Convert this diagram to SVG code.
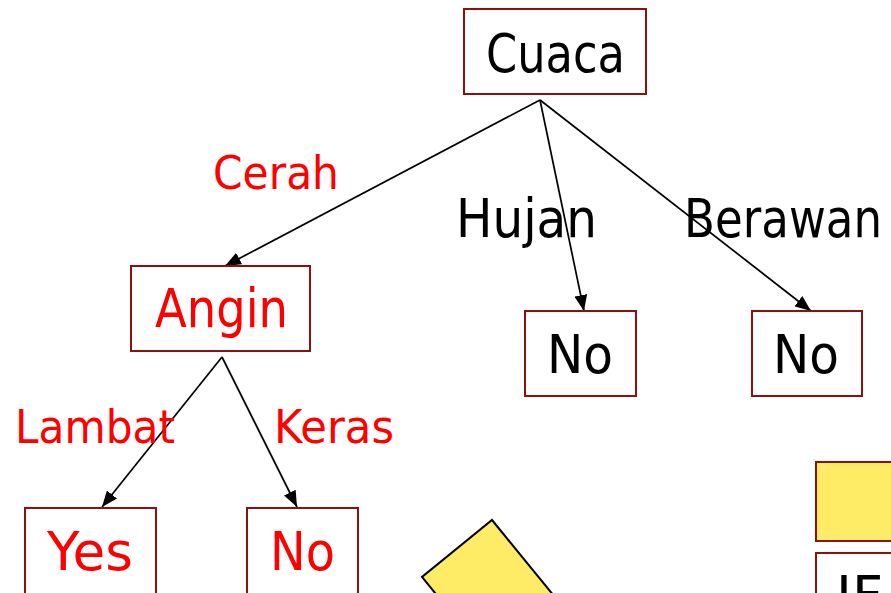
<svg xmlns="http://www.w3.org/2000/svg" width="891" height="593" viewBox="0 0 891 593">
<defs>
<marker id="arr" viewBox="0 0 16 13" refX="16" refY="6.5" markerWidth="16" markerHeight="13" markerUnits="userSpaceOnUse" orient="auto">
<path d="M0,0 L16,6.5 L0,13 z" fill="#000"/>
</marker>
<style>
.box{fill:#fff;stroke:#8b1010;stroke-width:2}
.t{font-family:"DejaVu Sans","Liberation Sans",sans-serif;font-size:54px}
.lb{font-family:"DejaVu Sans","Liberation Sans",sans-serif;font-size:46px;fill:#ff0000}
.blk{fill:#000}
.red{fill:#ff0000}
.e{stroke:#000;stroke-width:1.7;fill:none;marker-end:url(#arr)}
</style>
</defs>
<rect width="891" height="593" fill="#fff"/>
<g id="connectors">
<line class="e" x1="540" y1="100" x2="225" y2="266"/>
<line class="e" x1="540" y1="100" x2="584" y2="311"/>
<line class="e" x1="540" y1="100" x2="811" y2="311"/>
<line class="e" x1="222" y1="357" x2="102" y2="507"/>
<line class="e" x1="222" y1="357" x2="297" y2="507"/>
</g>
<g id="edge-labels">
<text class="lb" x="213" y="189" textLength="126" lengthAdjust="spacingAndGlyphs">Cerah</text>
<text class="t blk" x="456" y="237" textLength="141" lengthAdjust="spacingAndGlyphs">Hujan</text>
<text class="t blk" x="684" y="237" textLength="198" lengthAdjust="spacingAndGlyphs">Berawan</text>
<text class="lb" x="15" y="443" textLength="160" lengthAdjust="spacingAndGlyphs">Lambat</text>
<text class="lb" x="274" y="443" textLength="120" lengthAdjust="spacingAndGlyphs">Keras</text>
</g>
<g id="node-cuaca">
<rect class="box" x="464" y="9" width="182" height="85"/>
<text class="t blk" x="486" y="72" textLength="139" lengthAdjust="spacingAndGlyphs">Cuaca</text>
</g>
<g id="node-angin">
<rect class="box" x="131" y="266" width="179" height="85"/>
<text class="t red" x="155" y="327" textLength="133" lengthAdjust="spacingAndGlyphs">Angin</text>
</g>
<g id="node-no-hujan">
<rect class="box" x="525" y="311" width="111" height="85"/>
<text class="t blk" x="547" y="373" textLength="66" lengthAdjust="spacingAndGlyphs">No</text>
</g>
<g id="node-no-berawan">
<rect class="box" x="752" y="311" width="110" height="85"/>
<text class="t blk" x="773" y="373" textLength="66" lengthAdjust="spacingAndGlyphs">No</text>
</g>
<g id="node-yes">
<rect class="box" x="25" y="508" width="131" height="100"/>
<text class="t red" x="47" y="570" textLength="86" lengthAdjust="spacingAndGlyphs">Yes</text>
</g>
<g id="node-no-keras">
<rect class="box" x="247" y="508" width="111" height="100"/>
<text class="t red" x="270" y="570" textLength="65" lengthAdjust="spacingAndGlyphs">No</text>
</g>
<g id="yellow-rotated">
<polygon points="492,520 572,618 502,675 422,577" fill="#ffec66" stroke="#000" stroke-width="2"/>
</g>
<g id="yellow-box">
<rect x="816" y="462" width="90" height="79" fill="#ffec66" stroke="#8b1010" stroke-width="2"/>
</g>
<g id="if-box">
<rect class="box" x="816" y="553" width="90" height="80"/>
<text class="t blk" x="836" y="614">IF</text>
</g>
</svg>
